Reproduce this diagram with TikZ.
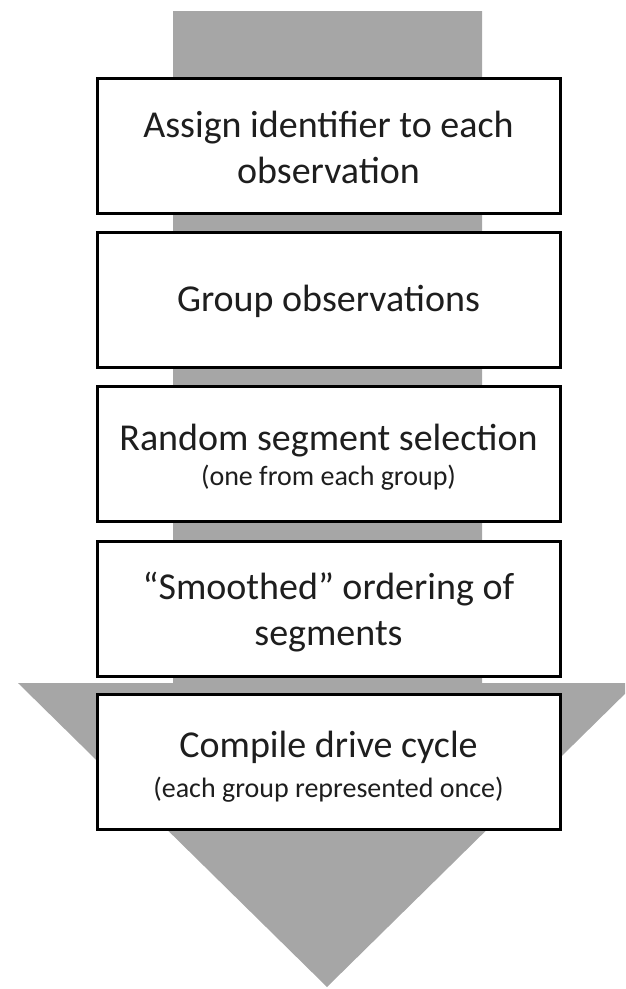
\documentclass[tikz,border=0pt]{standalone}
\usepackage{fontspec}
\setmainfont{Carlito}
\definecolor{arrowgray}{RGB}{166,166,166}
\definecolor{textblack}{RGB}{30,30,30}
\tikzset{
  stepbox/.style={draw=black, line width=3pt, fill=white, minimum width=463pt, minimum height=135pt, inner sep=0pt, align=center, text=textblack},
  bigtext/.style={font=\fontsize{38}{46}\selectfont},
}
\newcommand{\smalltxt}[1]{{\fontsize{28}{34}\selectfont #1}}
\begin{document}
\begin{tikzpicture}[x=1pt,y=-1pt]
\useasboundingbox (0,0) rectangle (625,989);
\clip (0,0) rectangle (625,989);
% big background arrow
\fill[arrowgray] (173,11) -- (482,11) -- (482,683) -- (636,683) -- (327,987) -- (18,683) -- (173,683) -- cycle;
% steps (baseline of the last line is placed via text height/depth)
\node[stepbox, bigtext, text height=80pt, text depth=5pt] (s1) at (328.5,145.5) {Assign identifier to each\\observation};
\node[stepbox, bigtext, text height=30pt, text depth=6.6pt] (s2) at (328.5,300) {Group observations};
\node[stepbox, bigtext, text height=70pt, text depth=6.6pt] (s3) at (328.5,454) {Random segment selection\\[-11pt]\smalltxt{(one from each group)}};
\node[stepbox, bigtext, text height=78pt, text depth=6pt] (s4) at (328.5,609) {“Smoothed” ordering of\\segments};
\node[stepbox, bigtext, text height=76pt, text depth=6pt] (s5) at (328.5,762) {Compile drive cycle\\[-6pt]\smalltxt{(each group represented once)}};
\end{tikzpicture}
\end{document}
